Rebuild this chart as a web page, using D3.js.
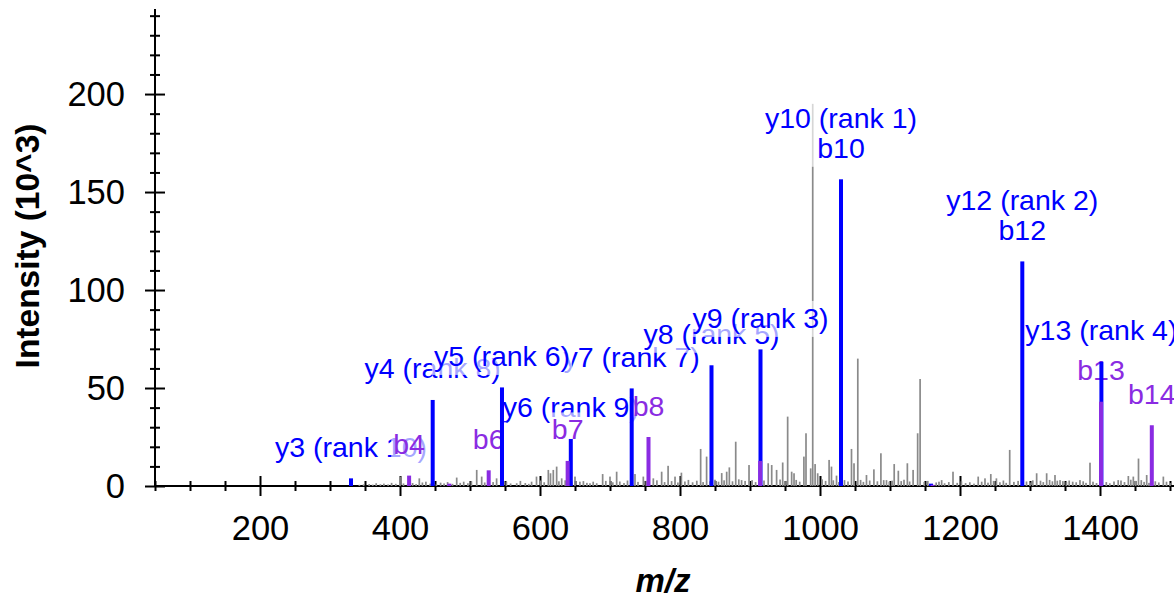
<!DOCTYPE html>
<html><head><meta charset="utf-8">
<script src="https://cdn.jsdelivr.net/npm/d3@7"></script>
<style>
html,body{margin:0;padding:0;background:#fff;}
svg{display:block;font-family:"Liberation Sans",Arial,Helvetica,sans-serif;}
</style>
</head><body>
<svg id="chart" width="1174" height="598"></svg>
<script>
// ---------- data ----------
const xDomain = [50, 1510];
const yDomain = [0, 243.4];
const xMajorTicks = [200, 400, 600, 800, 1000, 1200, 1400];
const yMajorTicks = [0, 50, 100, 150, 200];

// unannotated (gray) peaks: [m/z, intensity x10^3]
const grayPeaks = [
  [342,0.6],[348,0.8],[356,1.0],[361,0.7],[366,1.4],[372,0.9],[377,1.2],[383,0.8],[388,1.6],[394,1.1],
  [400,4.8],[405,1.3],[411,0.9],[418,1.5],[423,1.0],[427.6,3.9],[432,1.8],[437,2.2],[443,1.2],[452,0.9],
  [458,1.7],[463,1.3],[468,2.0],[475,1.1],[481,4.3],[486,1.6],[491,2.2],[497,1.4],[502,2.4],[509.6,8.2],
  [516.7,4.8],[521,1.8],[527,1.2],[533,2.0],[538,3.9],[545,1.6],[552,2.2],[558,1.3],[566.7,1.4],[572,2.6],
  [579,1.5],[584,1.1],[588,2.2],[595,4.8],[601,2.8],[606,1.9],[611.9,8.2],[615,6.5],[619,8.2],[623.8,9.9],
  [627,2.4],[631,3.9],[636,2.9],[645,1.8],[650,4.8],[657,2.2],[662,2.5],[667,1.6],[671.4,1.4],[676,2.2],
  [681,1.4],[689.5,6.1],[694,2.6],[700,4.8],[704,1.9],[709.5,7.3],[714,2.3],[720,1.5],[725,2.8],[735.7,6.1],
  [740,2.1],[747.6,4.8],[752,2.6],[761.9,3.9],[767,2.9],[773.8,7.3],[778,2.0],[783,10.3],[788,2.5],[792.9,4.8],
  [797,1.8],[802,6.8],[807,2.3],[812,3.1],[818,1.9],[824,2.7],[829.5,18.9],[833,2.0],[838,15],[843,2.4],
  [850,3.2],[855,2.2],[859.6,6.6],[863,2.9],[866.7,7.3],[870.5,9.5],[875,2.4],[879.6,22.6],[884,3.4],[888,3.0],
  [893,2.6],[898.6,10.7],[903,3.0],[908,2.0],[920,2.8],[926,11.6],[931,10.7],[938,8.2],[943,3.3],[946.7,12],
  [950,2.5],[953.8,35.4],[959.5,7.3],[962.9,6.5],[966,3.1],[971,2.2],[977,15],[980,26.9],[986.7,9],[989.6,195],
  [993,11.2],[996.7,6.5],[1003,3.4],[1008,2.6],[1013,13.3],[1016.4,9.9],[1019,2.9],[1023.6,5.3],[1027,2.0],[1035,3.0],
  [1040,2.3],[1045,18.9],[1048.6,11.6],[1054,65],[1058,3.1],[1062,2.1],[1066.4,5.6],[1071,2.8],[1077,8.5],[1082,2.4],
  [1087,16.7],[1091,3.0],[1095,3.0],[1099,2.2],[1103,2.7],[1106,11.2],[1111.9,7.8],[1116,2.5],[1120,3.2],[1124.8,11.6],
  [1128,2.3],[1133,8.2],[1139.5,26.9],[1143,54.6],[1149,2.1],[1154,2.6],[1166,1.8],[1170,2.2],[1173.8,3.0],[1178,1.4],
  [1184,2.0],[1190,7.3],[1196,1.6],[1202,2.4],[1208,1.5],[1214,1.9],[1220,1.2],[1226,4.8],[1231,2.2],[1235.7,3.9],
  [1240,1.7],[1244,6.1],[1248,2.6],[1252,3.9],[1257,1.9],[1262,2.8],[1266,1.6],[1271,18.4],[1277,2.1],[1283,2.6],
  [1295,2.3],[1300,1.8],[1304,2.9],[1309.5,6.5],[1315,2.7],[1319,2.0],[1323.8,6.5],[1328,3.1],[1332,2.4],[1335.7,5.6],
  [1339,2.7],[1342.9,3.0],[1347,2.5],[1352,2.0],[1356,2.8],[1361,2.2],[1366,1.9],[1371.4,3.0],[1376,2.4],[1380,1.6],
  [1385.7,11.9],[1390,2.2],[1395,1.5],[1409,2.0],[1414,1.4],[1420,2.3],[1426,3.0],[1430,2.8],[1435,2.0],[1440.5,5.1],
  [1444,3.2],[1447.6,4.8],[1451,2.6],[1455,14],[1459,3.0],[1463,2.1],[1466.7,5.6],[1470,1.6],[1479,2.4],[1484,1.8],
  [1490.5,4.8],[1495,2.2],[1500,1.5]
];

// y-ion peaks (blue)
const yIonPeaks = [
  [330,3.9],[446.7,43.9],[545.7,50.3],[644,24],[731,49.8],[845,61.6],[915,69.7],[1030,156.5],[1158.6,1.2],[1289,114.6],[1402,63.4]
];
// b-ion peaks (purple)
const bIonPeaks = [
  [413,5.3],[470.4,1.2],[526.7,8],[639.5,12.8],[755,25],[914.5,12.8],[1161,0.6],[1401.5,43],[1474,31]
];

// peak annotations, in drawing order
const labelMz        = [330, 644, 446.7, 731, 545.7, 845, 1402, 915, 1289, 1030, 413, 526.7, 639.5, 755, 1401.5, 1474];
const labelIntensity = [3.9, 24, 43.9, 49.8, 50.3, 61.6, 63.4, 69.7, 114.6, 156.5, 5.3, 8, 12.8, 25, 43, 31];
const labelText = [
  ["y3 (rank 10)"],["y6 (rank 9)"],["y4 (rank 8)"],["y7 (rank 7)"],["y5 (rank 6)"],["y8 (rank 5)"],
  ["y13 (rank 4)"],["y9 (rank 3)"],["y12 (rank 2)","b12"],["y10 (rank 1)","b10"],
  ["b4"],["b6"],["b7"],["b8"],["b13"],["b14"]
];
const labelIon = ["y","y","y","y","y","y","y","y","y","y","b","b","b","b","b","b"];

// ---------- styles ----------
const BLUE = "#0000ff", PURPLE = "#8a2be2", GRAY = "#8a8a8a";
const FONT = "Liberation Sans, Arial, sans-serif";

const svg = d3.select("#chart");
const x = d3.scaleLinear().domain(xDomain).range([155, 1177]);
const y = d3.scaleLinear().domain(yDomain).range([486, 9]);

// axes
const yMinor = d3.range(0, 241, 10).filter(v => v % 50 !== 0);
const xMinor = d3.range(50, 1501, 50).filter(v => v % 200 !== 0);

const gy = svg.append("g").attr("transform", "translate(155,0)");
gy.call(d3.axisLeft(y).tickValues(yMajorTicks).tickSize(10).tickPadding(20).tickFormat(d3.format("d")));
gy.selectAll(".tick line").attr("x1", 10).attr("x2", -10);
gy.append("g").call(d3.axisLeft(y).tickValues(yMinor).tickSize(5).tickFormat(""))
  .call(g => g.select(".domain").remove())
  .selectAll(".tick line").attr("x1", 5).attr("x2", -5);
gy.selectAll("text").attr("font-size", 34.5).attr("fill", "#000").attr("font-family", FONT);

const gx = svg.append("g").attr("transform", "translate(0,486)");
gx.call(d3.axisBottom(x).tickValues(xMajorTicks).tickSize(10).tickFormat(d3.format("d")));
gx.selectAll(".tick line").attr("y1", -10).attr("y2", 10);
gx.selectAll(".tick text").attr("y", 54).attr("dy", 0).attr("font-size", 34.5).attr("fill", "#000")
  .attr("font-family", FONT);
gx.append("g").call(d3.axisBottom(x).tickValues(xMinor).tickSize(5).tickFormat(""))
  .call(g => g.select(".domain").remove())
  .selectAll(".tick line").attr("y1", -5).attr("y2", 5);
svg.selectAll(".domain").attr("stroke", "#000").attr("stroke-width", 2);
svg.selectAll(".tick line").attr("stroke", "#000").attr("stroke-width", 2);
gx.select(".domain").attr("d", `M${x(xDomain[0])},0H${x(xDomain[1])}`);
gy.select(".domain").attr("d", `M0,${y(yDomain[0])}V${y(yDomain[1])}`);

// axis titles
svg.append("text").attr("x", 663).attr("y", 592).attr("text-anchor", "middle")
  .attr("font-size", 33).attr("font-weight", "bold").attr("font-style", "italic").text("m/z");
svg.append("text").attr("transform", "translate(39,246) rotate(-90)").attr("text-anchor", "middle")
  .attr("font-size", 33.5).attr("font-weight", "bold").text("Intensity (10^3)");

// gray peaks
svg.append("g").selectAll("rect").data(grayPeaks).join("rect")
  .attr("x", d => x(d[0]) - 0.85).attr("width", 1.7)
  .attr("y", d => y(d[1])).attr("height", d => y(0) - y(d[1]))
  .attr("fill", GRAY);

// labels with translucent white background
const labels = labelMz.map((m, i) => ({m, v: labelIntensity[i], lines: labelText[i], ion: labelIon[i]}));
const lg = svg.append("g");
labels.forEach(d => {
  const g = lg.append("g");
  const cx = x(d.m);
  const baseY = y(d.v) - 21.5;
  const color = d.ion === "y" ? BLUE : PURPLE;
  const rect = g.append("rect").attr("fill", "#fff").attr("fill-opacity", 0.65);
  const t = g.append("text").attr("text-anchor", "middle").attr("font-size", 28.5).attr("fill", color);
  const n = d.lines.length;
  d.lines.forEach((s, k) => {
    t.append("tspan").attr("x", cx).attr("y", baseY - (n - 1 - k) * 30).text(s);
  });
  const bb = t.node().getBBox();
  rect.attr("x", bb.x - 2).attr("y", bb.y - 1).attr("width", bb.width + 4).attr("height", bb.height + 4);
});

// annotated peaks on top
svg.append("g").selectAll("rect").data(yIonPeaks).join("rect")
  .attr("x", d => x(d[0]) - 2).attr("width", 4)
  .attr("y", d => y(d[1])).attr("height", d => y(0) - y(d[1]))
  .attr("fill", BLUE);
svg.append("g").selectAll("rect").data(bIonPeaks).join("rect")
  .attr("x", d => x(d[0]) - 2).attr("width", 4)
  .attr("y", d => y(d[1])).attr("height", d => y(0) - y(d[1]))
  .attr("fill", PURPLE);
</script>
</body></html>
